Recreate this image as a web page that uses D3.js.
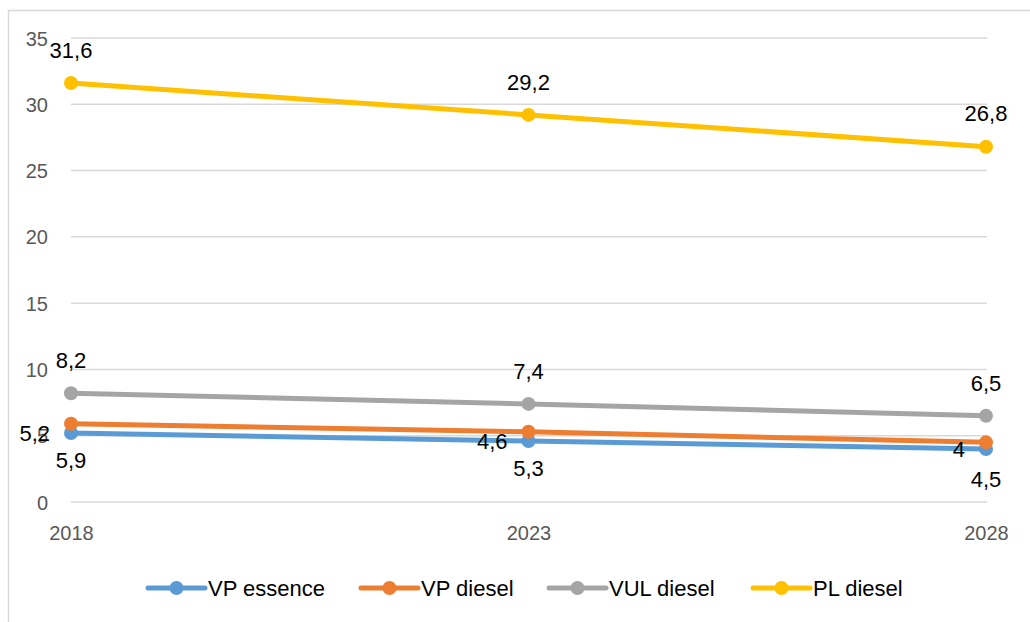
<!DOCTYPE html>
<html><head><meta charset="utf-8">
<script src="https://cdn.jsdelivr.net/npm/d3@7"></script>
<style>html,body{margin:0;padding:0;background:#fff;}svg{display:block;}</style>
</head><body>
<svg id="chart" width="1030" height="622"></svg>
<script>
const categories = ["2018", "2023", "2028"];
const seriesNames = ["VP essence", "VP diesel", "VUL diesel", "PL diesel"];
const vpEssence = [5.2, 4.6, 4.0];
const vpDiesel = [5.9, 5.3, 4.5];
const vulDiesel = [8.2, 7.4, 6.5];
const plDiesel = [31.6, 29.2, 26.8];
const yTicks = [0, 5, 10, 15, 20, 25, 30, 35];
const colors = ["#5B9BD5", "#ED7D31", "#A5A5A5", "#FFC000"];
const labelPos = ["left", "below", "above", "above"];

const series = [vpEssence, vpDiesel, vulDiesel, plDiesel].map((vals, i) => ({
  name: seriesNames[i], color: colors[i], pos: labelPos[i],
  values: vals.map((v, j) => ({cat: categories[j], v}))
}));

const svg = d3.select("#chart");
const font = "'Liberation Sans', Arial, sans-serif";
const fmt = v => String(v).replace(".", ",");

// outer border
svg.append("rect").attr("x", 8.5).attr("y", 10.5).attr("width", 1040).attr("height", 640)
  .attr("fill", "none").attr("stroke", "#D9D9D9").attr("stroke-width", 1.5);

const x = d3.scalePoint().domain(categories).range([71, 986]);
const y = d3.scaleLinear().domain([0, 35]).range([502, 38]);

// gridlines
svg.append("g").selectAll("line").data(yTicks).join("line")
  .attr("x1", 71).attr("x2", 987)
  .attr("y1", d => y(d)).attr("y2", d => y(d))
  .attr("stroke", "#D9D9D9").attr("stroke-width", 1.5);

// y axis labels
const yAxis = d3.axisLeft(y).tickValues(yTicks).tickSize(0).tickPadding(0);
const gy = svg.append("g").attr("transform", "translate(48,0)").call(yAxis);
gy.select(".domain").remove();
gy.selectAll("text").attr("font-family", font).attr("font-size", 20).attr("fill", "#595959")
  .attr("dy", "0.35em");

// x axis labels
const xAxis = d3.axisBottom(x).tickSize(0).tickPadding(0);
const gx = svg.append("g").attr("transform", "translate(0,533)").call(xAxis);
gx.select(".domain").remove();
gx.selectAll("text").attr("font-family", font).attr("font-size", 20).attr("fill", "#595959")
  .attr("dy", "0.35em");

const line = d3.line().x(d => x(d.cat)).y(d => y(d.v));

series.forEach(s => {
  svg.append("path").datum(s.values).attr("d", line)
    .attr("fill", "none").attr("stroke", s.color).attr("stroke-width", 5)
    .attr("stroke-linecap", "round").attr("stroke-linejoin", "round");
  svg.append("g").selectAll("circle").data(s.values).join("circle")
    .attr("cx", d => x(d.cat)).attr("cy", d => y(d.v)).attr("r", 7)
    .attr("fill", s.color);
});

// data labels
series.forEach(s => {
  svg.append("g").selectAll("text").data(s.values).join("text")
    .attr("font-family", font).attr("font-size", 22).attr("fill", "#000")
    .attr("x", d => s.pos === "left" ? x(d.cat) - 21 : x(d.cat))
    .attr("y", d => s.pos === "left" ? y(d.v) : s.pos === "above" ? y(d.v) - 33 : y(d.v) + 37)
    .attr("text-anchor", s.pos === "left" ? "end" : "middle")
    .attr("dy", "0.35em")
    .text(d => fmt(d.v));
});

// legend
const legendX = [148, 361, 549, 753];
const lg = svg.append("g");
series.forEach((s, i) => {
  const g = lg.append("g").attr("transform", `translate(${legendX[i]},588)`);
  g.append("line").attr("x1", 0).attr("x2", 57).attr("y1", 0).attr("y2", 0)
    .attr("stroke", s.color).attr("stroke-width", 5).attr("stroke-linecap", "round");
  g.append("circle").attr("cx", 28.5).attr("cy", 0).attr("r", 7).attr("fill", s.color);
  g.append("text").attr("x", 60).attr("y", 0).attr("dy", "0.35em")
    .attr("font-family", font).attr("font-size", 22).attr("fill", "#000").text(s.name);
});
</script>
</body></html>
